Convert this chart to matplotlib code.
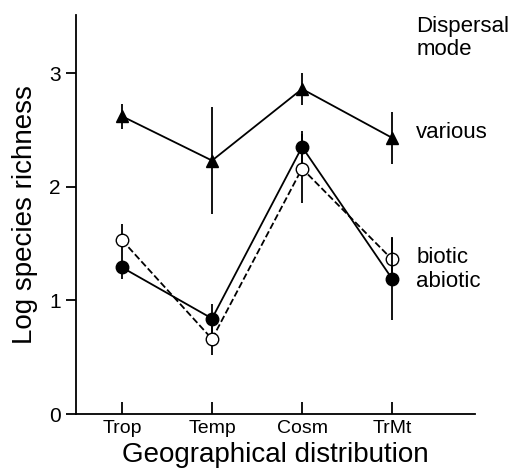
import matplotlib.pyplot as plt
import numpy as np

regions = ['Trop', 'Temp', 'Cosm', 'TrMt']
various = [2.62, 2.23, 2.86, 2.43]
various_err = [0.11, 0.47, 0.14, 0.23]
biotic = [1.53, 0.66, 2.16, 1.36]
biotic_err = [0.14, 0.14, 0.30, 0.20]
abiotic = [1.29, 0.84, 2.35, 1.19]
abiotic_err = [0.10, 0.13, 0.14, 0.36]

plt.rcParams['font.family'] = ['Liberation Sans', 'DejaVu Sans']

fig = plt.figure(figsize=(5.14, 4.71), dpi=100)
ax = fig.add_axes([0.148, 0.121, 0.776, 0.847])
x = np.arange(1, len(regions) + 1)

ax.errorbar(x, various, yerr=various_err, fmt='-^', color='black', lw=1.3,
            elinewidth=1.3, capsize=0, ms=9, mfc='black', zorder=3)
ax.errorbar(x, biotic, yerr=biotic_err, fmt='--o', color='black', lw=1.3,
            elinewidth=1.3, capsize=0, ms=9, mfc='white', zorder=4)
ax.errorbar(x, abiotic, yerr=abiotic_err, fmt='-o', color='black', lw=1.3,
            elinewidth=1.3, capsize=0, ms=9, mfc='black', zorder=5)

ax.set_xlim(0.49, 4.92)
ax.set_ylim(0, 3.51)
ax.set_xticks(x)
ax.set_xticklabels(regions, fontsize=14)
ax.set_yticks([0, 1, 2, 3])
ax.tick_params(axis='x', direction='in', length=9, width=1.3, pad=4)
ax.tick_params(axis='y', direction='out', length=7, width=1.3, labelsize=15, pad=4)
for s in ['top', 'right']:
    ax.spines[s].set_visible(False)
for s in ['left', 'bottom']:
    ax.spines[s].set_linewidth(1.3)

ax.set_xlabel('Geographical distribution', fontsize=20, labelpad=4)
ax.set_ylabel('Log species richness', fontsize=20, labelpad=8)

ax.text(4.27, 3.31, 'Dispersal\nmode', fontsize=16, va='center', ha='left',
        linespacing=1.15)
ax.text(4.27, various[3] + 0.05, 'various', fontsize=16, va='center', ha='left')
ax.text(4.27, 1.38, 'biotic', fontsize=16, va='center', ha='left')
ax.text(4.27, 1.17, 'abiotic', fontsize=16, va='center', ha='left')

plt.savefig('out.png', dpi=100)
